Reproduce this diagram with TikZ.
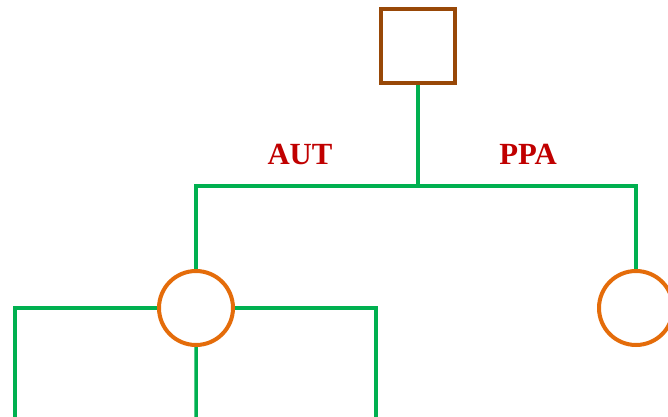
\documentclass[tikz,border=0pt]{standalone}
\usepackage{fontspec}
\setmainfont{Liberation Serif}
\usetikzlibrary{positioning}

\definecolor{rootbrown}{RGB}{152,72,7}
\definecolor{nodeorange}{RGB}{228,108,10}
\definecolor{edgegreen}{RGB}{0,176,80}
\definecolor{labelred}{RGB}{192,0,0}

\begin{document}
\begin{tikzpicture}[
  on grid,
  rootbox/.style={draw=rootbrown, line width=0.08cm, minimum size=1.48cm, inner sep=0pt},
  child/.style={draw=nodeorange, circle, line width=0.08cm, minimum size=1.48cm, inner sep=0pt},
  edge/.style={draw=edgegreen, line width=0.07cm},
  tag/.style={text=labelred, font=\fontsize{17.5}{20}\selectfont\bfseries}
]
\useasboundingbox (0,0) rectangle (13.36,-8.34);

\node[rootbox] (root) at (8.36,-0.92) {};
\node[child, below left=5.24cm and 4.44cm of root] (aut) {};
\node[child, below right=5.24cm and 4.36cm of root] (ppa) {};

\coordinate (bar) at (8.36,-3.72);
\coordinate (leafa) at (0.30,-8.40);
\coordinate (leafb) at (3.92,-8.40);
\coordinate (leafc) at (7.52,-8.40);

\node[tag] (auttag) at (6.0,-3.08) {AUT};
\node[tag] (ppatag) at (10.56,-3.08) {PPA};

% tree edges
\draw[edge] (root.south) -- (bar);
\draw[edge] (aut.north) |- (bar) -| (ppa.north);
\draw[edge] (aut.west) -| (leafa);
\draw[edge] (aut.south) -- (leafb);
\draw[edge] (aut.east) -| (leafc);
\end{tikzpicture}
\end{document}
